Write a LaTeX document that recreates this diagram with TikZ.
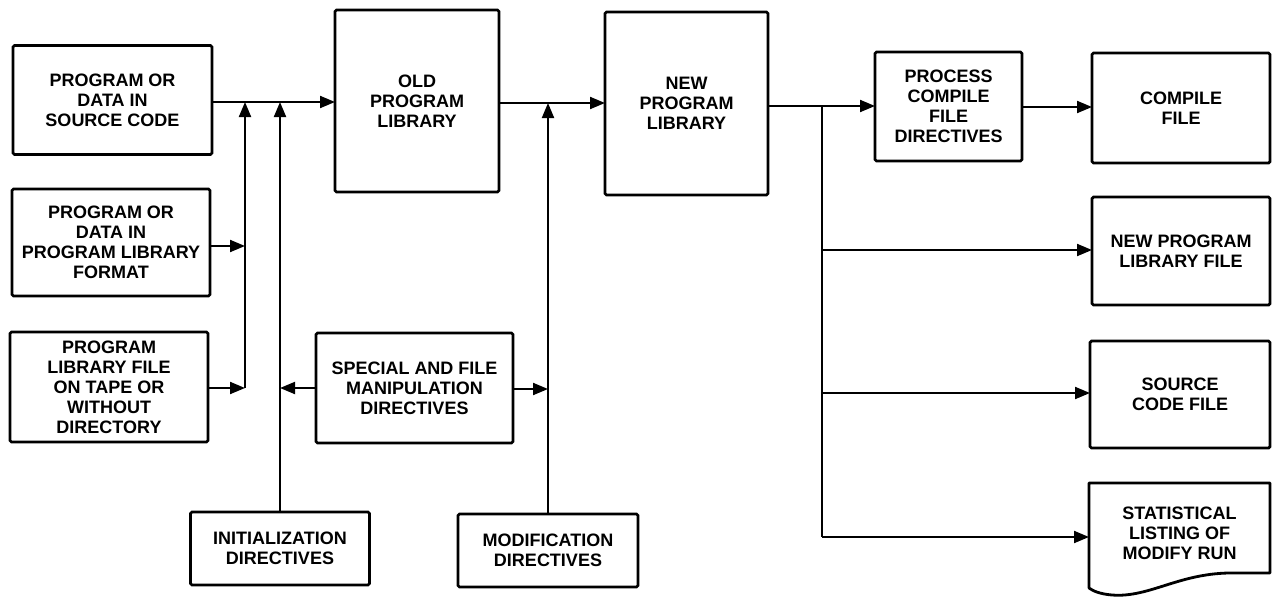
\documentclass[tikz,border=0pt]{standalone}
\usepackage{fontspec}
\setmainfont{Liberation Sans}
\usetikzlibrary{arrows.meta}
\tikzset{
  blk/.style={draw, line width=2.8pt, rounded corners=1.5pt, align=center, inner sep=0pt, outer sep=0pt,
    font=\bfseries\fontsize{18}{20}\selectfont},
  lbl/.style={align=center, inner sep=0pt, outer sep=0pt, font=\bfseries\fontsize{18}{20}\selectfont},
  conn/.style={line width=2pt},
  arr/.style={conn, -{Triangle[length=15pt,width=12pt]}},
}
\begin{document}
\begin{tikzpicture}[x=1pt,y=-1pt]
\useasboundingbox[fill=white] (0,0) rectangle (1273,597);
% left inputs
\node[blk, minimum width=199pt, minimum height=109pt] (A) at (112.5,100) {PROGRAM OR\\DATA IN\\SOURCE CODE};
\node[blk, minimum width=198pt, minimum height=107pt] (B) at (111,242.5) {PROGRAM OR\\DATA IN\\PROGRAM LIBRARY\\FORMAT};
\node[blk, minimum width=198pt, minimum height=110pt] (C) at (109,387) {PROGRAM\\LIBRARY FILE\\ON TAPE OR\\WITHOUT\\DIRECTORY};
% middle
\node[blk, minimum width=164pt, minimum height=182pt] (Old) at (417,101) {OLD\\PROGRAM\\LIBRARY};
\node[blk, minimum width=197pt, minimum height=110pt] (Spec) at (414.5,388) {SPECIAL AND FILE\\MANIPULATION\\DIRECTIVES};
\node[blk, minimum width=179pt, minimum height=73pt] (Init) at (280,548.5) {INITIALIZATION\\DIRECTIVES};
\node[blk, minimum width=163pt, minimum height=183pt] (New) at (686.5,103.5) {NEW\\PROGRAM\\LIBRARY};
\node[blk, minimum width=180pt, minimum height=73pt] (Mod) at (548,550.5) {MODIFICATION\\DIRECTIVES};
% right
\node[blk, minimum width=147pt, minimum height=109pt] (Proc) at (948.5,106.5) {PROCESS\\COMPILE\\FILE\\DIRECTIVES};
\node[blk, minimum width=178pt, minimum height=110pt] (Comp) at (1181,108) {COMPILE\\FILE};
\node[blk, minimum width=178pt, minimum height=108pt] (NPLF) at (1181,251) {NEW PROGRAM\\LIBRARY FILE};
\node[blk, minimum width=180pt, minimum height=107pt] (Src) at (1180,394.5) {SOURCE\\CODE FILE};
\node[lbl, minimum width=181pt, minimum height=100pt] (Stat) at (1179.5,533) {STATISTICAL\\LISTING OF\\MODIFY RUN};
\draw[line width=2.8pt, line join=round] (1089,483) -- (1270,483) -- (1270,573) -- (1235,573)
  .. controls (1180,572) and (1150,598) .. (1112,595)
  .. controls (1100,594) and (1093,591) .. (1089,588) -- cycle;
% junction coordinates
\coordinate (j1) at (245,102);
\coordinate (j2) at (280,102);
\coordinate (j1b) at (245,388);
\coordinate (j2b) at (280,388);
\coordinate (j3) at (548,103);
\coordinate (j3b) at (548,389);
\coordinate (t) at (822,106);
\coordinate (tb) at (822,537);
% connectors
\draw[arr] (A.east |- j1) -- (Old.west |- j1);
\draw[arr] (B.east |- 0,246) -- (245,246);
\draw[arr] (C.east |- j1b) -- (j1b);
\draw[arr] (j1b) -- (j1);
\draw[arr] (Init.north) -- (j2);
\draw[arr] (Spec.west |- j2b) -- (j2b);
\draw[arr] (Old.east |- j3) -- (New.west |- j3);
\draw[arr] (Mod.north) -- (j3);
\draw[arr] (Spec.east |- j3b) -- (j3b);
\draw[arr] (New.east |- t) -- (Proc.west |- t);
\draw[conn] (t) -- (tb);
\draw[arr] (Proc.east |- 0,107) -- (Comp.west |- 0,107);
\draw[arr] (t |- 0,250) -- (NPLF.west |- 0,250);
\draw[arr] (t |- 0,393) -- (Src.west |- 0,393);
\draw[arr] (tb) -- (Stat.west |- tb);
\end{tikzpicture}
\end{document}
